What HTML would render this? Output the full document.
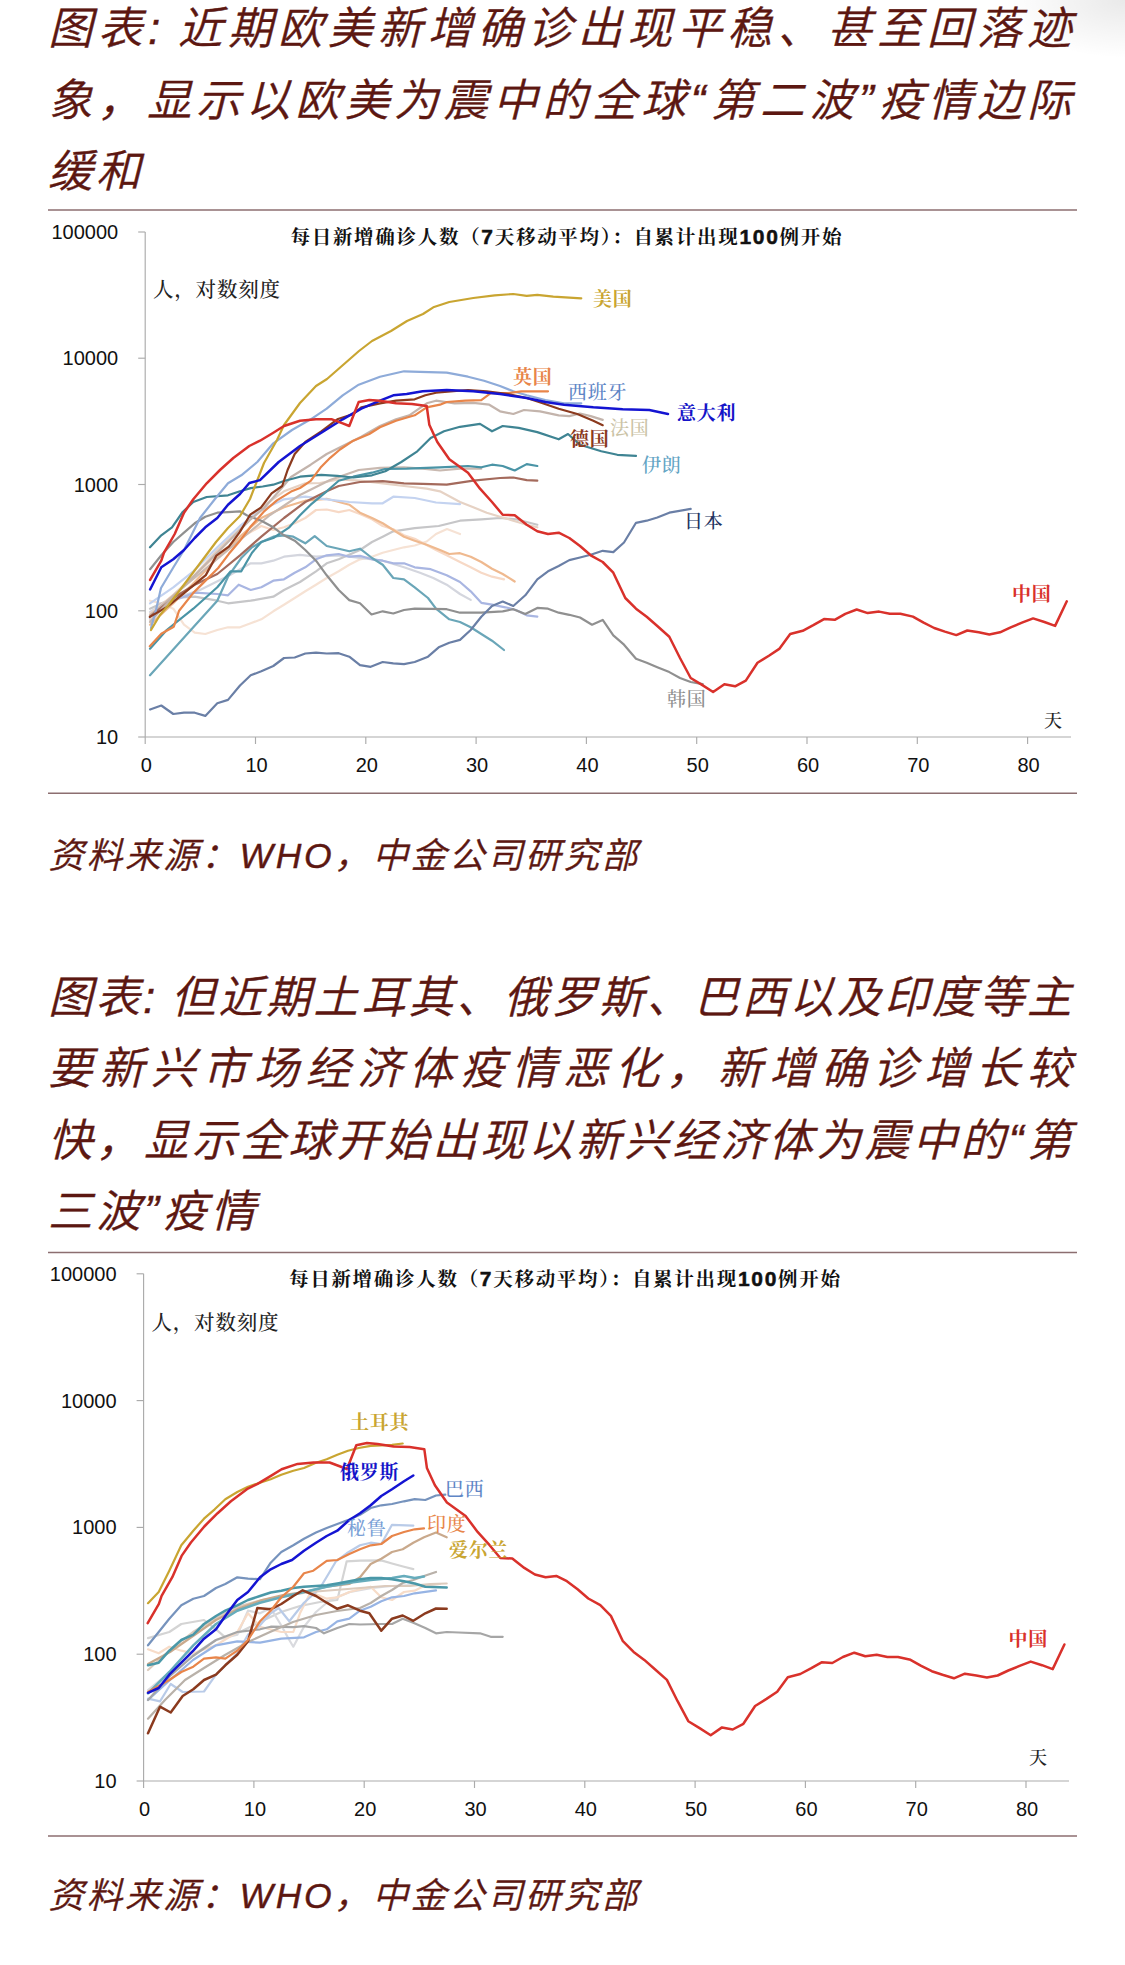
<!DOCTYPE html>
<html lang="zh-CN"><head><meta charset="utf-8"><title>图表</title>
<style>
html,body{margin:0;padding:0;background:#fff;}
body{width:1125px;height:1965px;position:relative;overflow:hidden;font-family:"Liberation Sans","Noto Sans CJK SC",sans-serif;}
.t{position:absolute;left:48px;width:1023.5px;color:#5c1711;font-style:italic;font-weight:350;font-size:44.5px;line-height:72px;height:72px;white-space:nowrap;text-align:justify;text-align-last:justify;letter-spacing:0;}
.t,.s{-webkit-text-stroke:0.4px #5c1711;}
.t.l{text-align:left;text-align-last:left;letter-spacing:3.6px;}
.s{position:absolute;left:48.5px;color:#5c1711;font-style:italic;font-weight:350;font-size:35.5px;line-height:50px;white-space:nowrap;letter-spacing:2.7px;}
svg.ch{position:absolute;left:0;top:0;}
.num text{font-family:"Liberation Sans",sans-serif;font-size:20px;fill:#111;}
.kai text{font-family:"Liberation Serif","Noto Serif CJK SC",serif;}
.kai .hd{font-family:"Liberation Sans",sans-serif;font-weight:700;font-size:21px;stroke:#111;stroke-width:0.5px;}
.corner{position:absolute;right:0;top:0;width:120px;height:58px;background:radial-gradient(ellipse 120px 58px at 100% 0,rgba(0,0,0,.085),rgba(0,0,0,0));}
</style></head><body>
<div class="corner"></div>
<div class="t" style="top:-7.0px">图表: 近期欧美新增确诊出现平稳、甚至回落迹</div>
<div class="t" style="top:64.5px">象，显示以欧美为震中的全球“第二波”疫情边际</div>
<div class="t l" style="top:136.0px">缓和</div>
<div class="t" style="top:961.7px">图表: 但近期土耳其、俄罗斯、巴西以及印度等主</div>
<div class="t" style="top:1033.2px">要新兴市场经济体疫情恶化，新增确诊增长较</div>
<div class="t" style="top:1104.7px">快，显示全球开始出现以新兴经济体为震中的“第</div>
<div class="t l" style="top:1176.2px">三波”疫情</div>
<div class="s" style="top:831px">资料来源：WHO，中金公司研究部</div>
<div class="s" style="top:1871px">资料来源：WHO，中金公司研究部</div>
<svg class="ch" width="1125" height="1965" viewBox="0 0 1125 1965">
<g stroke="#8c6e70" stroke-width="1.5"><line x1="48" y1="210" x2="1077" y2="210"/><line x1="48" y1="793.3" x2="1077" y2="793.3"/><line x1="48" y1="1252.4" x2="1077" y2="1252.4"/><line x1="48" y1="1836" x2="1077" y2="1836"/></g>
<g stroke="#ababab" stroke-width="1.15" fill="none">
<line x1="145.2" y1="232.0" x2="145.2" y2="737.0"/>
<line x1="145.2" y1="737.0" x2="1071.0" y2="737.0"/>
<line x1="138.2" y1="232.0" x2="145.2" y2="232.0"/>
<line x1="138.2" y1="358.2" x2="145.2" y2="358.2"/>
<line x1="138.2" y1="484.5" x2="145.2" y2="484.5"/>
<line x1="138.2" y1="610.8" x2="145.2" y2="610.8"/>
<line x1="138.2" y1="737.0" x2="145.2" y2="737.0"/>
<line x1="145.2" y1="737.0" x2="145.2" y2="744.0"/>
<line x1="255.5" y1="737.0" x2="255.5" y2="744.0"/>
<line x1="365.8" y1="737.0" x2="365.8" y2="744.0"/>
<line x1="476.1" y1="737.0" x2="476.1" y2="744.0"/>
<line x1="586.4" y1="737.0" x2="586.4" y2="744.0"/>
<line x1="696.7" y1="737.0" x2="696.7" y2="744.0"/>
<line x1="807.0" y1="737.0" x2="807.0" y2="744.0"/>
<line x1="917.3" y1="737.0" x2="917.3" y2="744.0"/>
<line x1="1027.6" y1="737.0" x2="1027.6" y2="744.0"/>
</g>
<g class="num">
<text x="118.2" y="239.0" text-anchor="end">100000</text>
<text x="118.2" y="365.2" text-anchor="end">10000</text>
<text x="118.2" y="491.5" text-anchor="end">1000</text>
<text x="118.2" y="617.8" text-anchor="end">100</text>
<text x="118.2" y="744.0" text-anchor="end">10</text>
<text x="146.2" y="772.0" text-anchor="middle">0</text>
<text x="256.5" y="772.0" text-anchor="middle">10</text>
<text x="366.8" y="772.0" text-anchor="middle">20</text>
<text x="477.1" y="772.0" text-anchor="middle">30</text>
<text x="587.4" y="772.0" text-anchor="middle">40</text>
<text x="697.7" y="772.0" text-anchor="middle">50</text>
<text x="808.0" y="772.0" text-anchor="middle">60</text>
<text x="918.3" y="772.0" text-anchor="middle">70</text>
<text x="1028.6" y="772.0" text-anchor="middle">80</text>
</g>
<g fill="none" stroke-linejoin="round" stroke-linecap="round"><polyline points="150.0,600.7 161.3,603.3 173.3,608.7 184.0,624.7 194.7,632.7 205.3,634.0 217.3,630.0 228.0,627.3 240.0,627.3 250.7,623.3 261.3,619.3 273.3,611.3 284.0,604.7 294.7,598.0 305.3,591.3 316.0,584.7 326.7,578.0 338.7,571.3 349.3,564.7 360.0,559.3 372.0,556.7 382.7,552.7 393.3,550.0 404.0,547.3 414.7,545.5 426.7,541.5 436.0,534.0 447.0,529.0 460.0,534.0" stroke="#f6e2d4" stroke-width="2.2"/>
<polyline points="150.0,612.0 170.0,600.0 200.0,590.0 230.0,575.0 250.7,563.3 261.3,563.3 273.3,560.7 284.0,556.7 300.0,554.8 316.0,556.7 338.7,555.3 360.0,558.0 382.7,560.7 404.0,567.3 420.0,572.7 433.3,578.0 446.7,584.7 460.0,594.0 470.7,599.9" stroke="#d4d6de" stroke-width="2.2"/>
<polyline points="150.0,608.7 173.0,598.0 194.7,596.7 217.3,600.7 228.0,603.3 250.7,600.7 273.3,596.7 284.0,590.0 300.0,582.0 316.0,571.3 326.7,563.3 338.7,559.3 360.0,550.0 372.0,542.0 382.7,536.7 393.3,531.3 414.7,528.1 438.7,526.0 460.0,520.7 481.3,519.3 500.0,518.0 516.0,519.3 537.3,524.7" stroke="#c6c6c8" stroke-width="2.2"/>
<polyline points="150.0,618.0 161.0,606.0 173.3,600.7 194.7,592.7 217.3,594.0 228.0,595.3 238.7,584.7 250.7,590.0 261.3,587.3 273.3,580.7 284.0,579.3 294.7,572.7 305.3,567.3 316.0,559.3 326.7,555.3 338.7,554.0 349.3,556.7 360.0,555.9 372.0,559.3 382.7,560.7 393.3,563.3 404.0,563.3 414.7,567.3 430.7,569.2 446.7,575.3 460.0,582.0 470.7,591.3 481.3,602.8 492.0,604.7 505.3,607.3 516.0,610.0 526.7,615.3 537.3,616.7" stroke="#a9b6e2" stroke-width="2.2"/>
<polyline points="150.0,614.0 173.0,595.0 195.0,575.0 217.0,555.0 240.0,538.0 261.3,526.0 273.3,530.0 284.0,527.3 294.7,523.3 305.3,518.0 316.0,510.0 326.7,509.5 338.7,512.1 349.3,510.0 360.0,514.0 372.0,519.3 382.7,526.0 393.3,529.2 404.0,535.3 414.7,538.8 436.0,550.0 446.7,555.3 460.0,562.0 470.7,567.3 481.3,572.7 492.0,576.7 504.0,579.3" stroke="#f7d9c6" stroke-width="2.2"/>
<polyline points="150.0,624.7 173.3,603.3 194.7,582.0 217.3,558.0 240.0,536.7 261.3,518.0 284.0,507.3 305.3,500.7 326.7,498.8 349.3,504.7 360.0,512.7 372.0,518.0 382.7,523.3 393.3,530.0 404.0,536.7 414.7,540.7 426.7,544.7 440.0,550.0 449.3,554.0 460.0,553.2 470.7,556.7 481.3,562.0 492.0,568.7 502.7,574.0 514.7,581.5" stroke="#efb98f" stroke-width="2.2"/>
<polyline points="150.0,620.0 170.0,598.0 193.3,576.7 217.3,550.0 240.0,528.7 261.3,507.3 284.0,491.3 305.3,483.3 320.0,483.0 338.7,479.3 360.0,480.7 382.7,483.3 404.0,486.0 426.7,488.7 440.0,491.3 460.0,502.0 473.3,507.3 486.7,512.7 500.0,516.7 513.3,520.7 526.7,524.7 537.3,527.3" stroke="#e6d2c4" stroke-width="2.2"/>
<polyline points="150.0,603.3 173.3,587.3 193.3,571.3 217.3,547.3 240.0,526.0 261.3,510.0 284.0,499.3 305.3,496.7 326.7,499.3 349.3,502.0 372.0,503.3 382.7,503.3 393.3,496.7 414.7,498.0 436.0,502.5 460.0,504.1" stroke="#c4d3f0" stroke-width="2.2"/>
<polyline points="150.0,615.0 180.0,590.0 210.0,565.0 240.0,540.0 270.0,515.0 300.0,495.0 330.0,480.0 358.7,470.0 380.0,467.9 404.0,467.3 422.7,468.7 440.0,470.5 460.0,468.7 481.3,468.7" stroke="#c9b9b0" stroke-width="2.2"/>
<polyline points="150.0,675.3 166.7,656.7 193.3,627.3 217.3,600.7 228.0,576.7 241.3,558.0 252.0,547.3 261.3,542.0 273.3,536.7 284.0,535.3 293.3,536.7 305.3,543.3 314.7,536.1 326.7,546.0 338.7,548.7 349.3,551.3 360.0,548.7 372.0,558.0 382.7,564.7 393.3,578.0 404.0,579.3 414.7,587.3 428.0,598.0 436.0,608.7 449.3,619.3 460.0,622.0 470.7,627.3 481.3,634.0 492.0,640.7 504.0,650.0" stroke="#6aa6b8" stroke-width="2.2"/>
<polyline points="150.0,616.7 173.3,598.0 194.7,584.7 217.3,574.0 240.0,555.3 261.3,536.7 284.0,518.0 305.3,502.0 326.7,491.3 338.7,486.0 360.0,482.0 382.7,481.2 404.0,483.3 422.7,483.9 446.7,484.7 473.3,480.7 500.0,478.0 513.3,477.5 526.7,480.1 537.3,480.7" stroke="#a46a5c" stroke-width="2.2"/>
<polyline points="150.0,648.7 166.7,630.0 193.3,608.7 217.3,587.3 230.7,571.3 241.3,571.3 252.0,552.7 261.3,542.0 273.3,538.0 289.3,527.3 300.0,515.3 310.7,504.7 326.7,491.3 338.7,480.7 353.3,476.7 372.0,472.7 385.0,469.0 406.7,468.7 440.0,467.3 468.0,466.0 481.3,467.3 492.0,464.7 502.7,466.0 514.7,470.5 526.7,464.1 537.3,466.0" stroke="#4a94a6" stroke-width="2.2"/>
<polyline points="150.1,569.2 161.3,555.3 173.3,542.0 184.0,532.7 194.7,523.3 205.3,516.7 217.3,512.7 228.0,512.1 240.0,511.3 246.7,515.3 261.3,520.7 273.3,527.3 284.0,535.3 294.7,540.7 305.3,550.0 316.0,560.7 326.7,575.3 338.7,590.0 349.3,600.1 360.0,603.3 371.5,614.5 382.7,611.3 393.3,613.5 404.0,610.0 414.7,608.7 446.7,609.2 460.0,612.7 481.3,612.7 502.7,611.3 513.3,609.2 525.3,614.0 537.3,607.9 548.0,608.7 558.7,612.7 569.3,614.8 580.0,617.5 592.0,624.7 602.7,619.9 613.3,635.3 624.0,644.7 636.0,658.8 646.7,662.8 657.3,667.3 669.3,672.1 680.0,678.0 690.7,682.0 702.7,684.1" stroke="#909090" stroke-width="2.2"/>
<polyline points="150.1,709.5 161.3,705.5 173.3,714.0 184.0,712.7 194.7,712.7 205.3,715.9 217.3,703.3 228.0,699.9 240.0,685.5 250.7,675.3 261.3,671.3 273.3,666.0 284.0,658.0 294.7,657.5 305.3,653.5 316.0,652.7 326.7,653.5 338.7,653.2 349.3,656.7 360.0,665.2 370.7,666.8 382.7,662.0 393.3,663.3 404.0,664.1 414.7,662.0 428.0,656.7 438.7,647.3 449.3,642.8 460.0,639.9 470.7,630.0 481.3,616.7 492.0,606.0 502.7,601.5 513.3,606.0 525.3,595.3 537.3,579.3 548.0,571.3 558.7,566.0 569.3,560.1 580.0,557.5 590.7,554.8 602.7,550.8 613.3,552.1 624.0,542.5 636.0,522.8 646.7,520.7 657.3,517.5 669.3,512.7 690.7,508.9" stroke="#6a7fa6" stroke-width="2.2"/>
<polyline points="150.0,622.0 170.0,600.0 190.0,580.0 210.0,560.0 230.0,540.0 250.0,520.0 264.0,508.0 280.0,490.0 291.0,477.0 310.7,464.7 326.7,454.0 342.7,446.0 361.3,436.7 380.0,426.0 396.0,419.3 409.3,415.3 426.7,403.3 436.0,400.7 454.7,403.3 473.3,402.8 489.3,404.7 500.0,411.3 513.3,414.0 524.0,410.0 540.0,411.3 558.7,415.3 569.3,416.1 580.0,413.5 590.7,416.1 602.7,419.9" stroke="#c3b4ac" stroke-width="2.2"/>
<polyline points="150.0,547.3 161.3,535.3 172.0,527.3 182.7,512.0 193.3,502.0 206.7,497.0 228.0,495.3 240.0,491.3 250.7,488.1 262.7,486.5 273.3,484.7 284.0,481.0 300.0,476.7 321.3,474.8 337.3,475.9 353.3,477.5 372.0,475.3 385.3,471.3 401.3,462.0 417.3,451.3 430.7,438.0 444.0,431.3 460.0,426.8 480.0,423.9 492.0,431.3 502.7,426.0 518.7,427.9 537.3,432.1 558.7,439.3 568.0,434.0 580.0,444.7 601.3,451.3 617.3,454.8 636.0,455.9" stroke="#3f8493" stroke-width="2.2"/>
<polyline points="151.0,628.0 156.0,610.0 161.0,588.0 173.0,568.0 184.0,550.0 200.0,518.0 215.0,499.0 228.0,483.3 241.3,475.3 257.3,462.0 273.3,443.3 292.0,430.0 310.7,419.3 326.7,408.7 342.7,395.3 358.7,384.7 380.0,376.7 404.0,371.3 420.0,371.9 446.7,372.7 468.0,376.7 484.0,380.7 500.0,386.0 513.3,391.3 526.7,395.3 545.3,400.1 564.0,403.3 581.3,403.3" stroke="#8eabd9" stroke-width="2.2"/>
<polyline points="149.8,646.2 161.3,633.8 173.8,626.7 179.1,610.7 193.3,592.9 205.8,580.4 218.2,568.0 228.9,553.8 239.6,541.3 250.2,527.1 264.4,511.1 276.9,500.4 291.1,491.6 300.0,488.0 310.7,480.9 321.3,466.7 330.2,457.8 340.0,449.5 353.3,440.7 369.3,434.0 380.0,427.3 396.0,420.7 414.7,415.3 426.7,407.3 440.0,404.7 446.7,402.0 465.3,400.7 481.3,400.1 490.7,393.2 508.0,393.2 521.3,391.3 548.0,391.3" stroke="#e8854a" stroke-width="2.2"/>
<polyline points="149.8,616.9 166.7,607.1 184.4,592.9 205.8,575.1 216.4,555.6 228.9,546.7 239.6,532.4 250.2,514.7 260.9,507.6 271.6,493.3 282.2,486.0 287.6,470.0 294.7,454.0 305.3,442.0 321.3,431.3 337.3,419.3 353.3,414.0 361.3,407.3 380.0,403.3 396.0,400.7 414.7,399.3 425.3,395.3 436.0,392.7 468.0,390.0 486.7,391.3 508.0,394.0 526.7,398.0 542.7,403.3 558.7,408.7 577.3,414.0 593.3,420.7 602.7,425.2" stroke="#8b3a1e" stroke-width="2.2"/>
<polyline points="151.0,630.0 160.0,615.0 167.0,607.0 180.0,590.0 195.0,570.0 216.0,542.0 228.0,528.0 240.0,516.0 250.0,499.0 257.0,481.0 264.0,463.0 277.0,440.0 284.0,425.0 300.0,403.0 316.0,386.0 327.0,379.0 343.0,365.0 359.0,351.0 372.0,341.0 391.0,331.0 407.0,321.0 423.0,314.0 433.3,307.3 449.3,302.0 473.3,298.0 494.7,295.3 513.3,294.0 526.7,295.9 537.3,294.8 553.3,296.7 581.3,298.3" stroke="#c9a531" stroke-width="2.2"/>
<polyline points="150.1,589.5 161.3,567.3 173.3,559.3 184.0,550.0 194.7,538.0 205.3,527.3 217.3,518.0 228.0,504.7 240.0,494.0 249.3,483.0 260.0,480.1 278.7,462.0 300.0,446.0 321.3,432.7 342.7,419.3 361.3,408.7 380.0,400.7 393.3,395.3 406.7,394.0 422.7,391.3 446.7,390.0 473.3,391.3 500.0,394.0 526.7,398.0 545.3,402.0 564.0,404.7 593.3,407.3 622.7,409.2 649.3,410.0 668.0,414.0" stroke="#1414d2" stroke-width="2.5"/>
<polyline points="150.1,579.9 161.3,560.7 164.0,552.7 174.7,534.0 184.0,512.7 193.3,499.3 206.7,483.3 220.0,470.0 233.3,458.0 249.3,446.0 260.0,440.7 273.3,432.7 284.0,426.0 300.0,420.7 316.0,419.3 332.0,419.3 342.7,423.3 349.3,426.0 358.7,402.0 369.3,399.9 380.0,400.7 396.0,403.3 412.0,403.9 426.7,406.0 429.3,424.7 437.3,442.0 449.3,459.3 468.0,472.7 480.0,488.7 492.0,502.0 502.7,514.8 514.7,515.3 526.7,524.7 537.3,531.3 548.0,534.0 558.7,532.7 569.3,538.0 580.0,546.0 590.7,555.3 602.7,562.0 613.3,572.7 625.3,598.0 636.0,608.7 646.7,616.7 657.3,626.0 669.3,636.7 680.0,658.0 690.7,678.0 702.0,684.9 713.1,692.0 724.4,684.2 735.1,686.3 745.8,680.6 757.5,662.8 768.9,655.7 779.6,648.6 790.2,634.0 802.7,630.8 813.3,625.2 824.0,619.1 834.7,619.8 845.3,613.8 856.7,609.5 867.7,613.1 879.1,611.6 889.8,613.8 900.4,613.8 912.9,616.6 923.6,622.7 934.2,628.0 944.9,631.6 956.3,635.1 967.3,630.5 978.7,632.3 989.3,634.4 1000.0,632.3 1010.7,627.3 1022.0,622.7 1033.1,618.4 1044.4,622.0 1055.1,625.9 1066.8,601.3" stroke="#d9312b" stroke-width="2.5"/></g>
<g class="kai">
<text x="290.5" y="243.5" font-weight="700" font-size="19.5" fill="#111" textLength="551" lengthAdjust="spacing">每日新增确诊人数（<tspan class="hd">7</tspan>天移动平均）：自累计出现<tspan class="hd">100</tspan>例开始</text>
<text x="153.0" y="296.5" fill="#222" font-size="20.5" letter-spacing="0.8" font-weight="500">人，对数刻度</text>
<text x="593.0" y="306.0" fill="#c9a531" font-size="19" letter-spacing="0.8" font-weight="700">美国</text>
<text x="513.0" y="384.0" fill="#e8854a" font-size="19" letter-spacing="0.8" font-weight="700">英国</text>
<text x="568.0" y="399.0" fill="#5f86c6" font-size="19" letter-spacing="0.8" font-weight="500">西班牙</text>
<text x="677.0" y="420.0" fill="#1414c8" font-size="19" letter-spacing="0.8" font-weight="700">意大利</text>
<text x="610.0" y="435.0" fill="#cbc3a6" font-size="19" letter-spacing="0.8" font-weight="500">法国</text>
<text x="570.0" y="446.0" fill="#8b3a1e" font-size="19" letter-spacing="0.8" font-weight="700">德国</text>
<text x="642.0" y="472.0" fill="#62a4c4" font-size="19" letter-spacing="0.8" font-weight="500">伊朗</text>
<text x="684.0" y="528.0" fill="#22335f" font-size="19" letter-spacing="0.8" font-weight="500">日本</text>
<text x="667.0" y="706.0" fill="#8e8e8e" font-size="19" letter-spacing="0.8" font-weight="500">韩国</text>
<text x="1012.0" y="601.0" fill="#d9312b" font-size="19" letter-spacing="0.8" font-weight="700">中国</text>
<text x="1044.0" y="727.0" fill="#222" font-size="18" letter-spacing="0.8" font-weight="500">天</text>
</g>
<g stroke="#ababab" stroke-width="1.15" fill="none">
<line x1="143.6" y1="1273.8" x2="143.6" y2="1781.0"/>
<line x1="143.6" y1="1781.0" x2="1069.0" y2="1781.0"/>
<line x1="136.6" y1="1273.8" x2="143.6" y2="1273.8"/>
<line x1="136.6" y1="1400.6" x2="143.6" y2="1400.6"/>
<line x1="136.6" y1="1527.4" x2="143.6" y2="1527.4"/>
<line x1="136.6" y1="1654.2" x2="143.6" y2="1654.2"/>
<line x1="136.6" y1="1781.0" x2="143.6" y2="1781.0"/>
<line x1="143.6" y1="1781.0" x2="143.6" y2="1788.0"/>
<line x1="253.9" y1="1781.0" x2="253.9" y2="1788.0"/>
<line x1="364.2" y1="1781.0" x2="364.2" y2="1788.0"/>
<line x1="474.5" y1="1781.0" x2="474.5" y2="1788.0"/>
<line x1="584.8" y1="1781.0" x2="584.8" y2="1788.0"/>
<line x1="695.1" y1="1781.0" x2="695.1" y2="1788.0"/>
<line x1="805.4" y1="1781.0" x2="805.4" y2="1788.0"/>
<line x1="915.7" y1="1781.0" x2="915.7" y2="1788.0"/>
<line x1="1026.0" y1="1781.0" x2="1026.0" y2="1788.0"/>
</g>
<g class="num">
<text x="116.6" y="1280.8" text-anchor="end">100000</text>
<text x="116.6" y="1407.6" text-anchor="end">10000</text>
<text x="116.6" y="1534.4" text-anchor="end">1000</text>
<text x="116.6" y="1661.2" text-anchor="end">100</text>
<text x="116.6" y="1788.0" text-anchor="end">10</text>
<text x="144.6" y="1816.0" text-anchor="middle">0</text>
<text x="254.9" y="1816.0" text-anchor="middle">10</text>
<text x="365.2" y="1816.0" text-anchor="middle">20</text>
<text x="475.5" y="1816.0" text-anchor="middle">30</text>
<text x="585.8" y="1816.0" text-anchor="middle">40</text>
<text x="696.1" y="1816.0" text-anchor="middle">50</text>
<text x="806.4" y="1816.0" text-anchor="middle">60</text>
<text x="916.7" y="1816.0" text-anchor="middle">70</text>
<text x="1027.0" y="1816.0" text-anchor="middle">80</text>
</g>
<g fill="none" stroke-linejoin="round" stroke-linecap="round"><polyline points="148.0,1638.1 169.3,1632.0 181.3,1624.0 204.0,1620.0 216.0,1629.3 225.3,1637.3 240.0,1632.0 260.0,1622.0 281.0,1612.0 300.0,1606.0 320.0,1602.0 337.3,1600.0 346.7,1561.3 360.0,1560.6 381.3,1560.4 392.0,1563.5 404.0,1566.7 413.3,1569.1" stroke="#d4d4d4" stroke-width="2.2"/>
<polyline points="148.0,1690.0 170.0,1672.0 193.0,1655.0 216.0,1640.0 237.3,1634.7 248.0,1610.7 260.0,1613.3 270.7,1608.0 281.0,1625.0 289.3,1640.0 293.3,1646.7 304.0,1626.7 316.0,1612.0 330.0,1600.0 350.0,1592.0 372.0,1588.0 392.0,1586.0 414.0,1585.0" stroke="#d9dade" stroke-width="2.2"/>
<polyline points="148.0,1649.3 158.7,1653.3 169.3,1646.7 181.3,1650.7 193.3,1653.3 216.0,1645.3 237.3,1632.0 248.0,1613.3 260.0,1626.7 281.3,1632.0 293.3,1632.0 300.0,1613.3 310.7,1592.0 326.7,1598.7 337.3,1597.3 349.3,1592.0 370.7,1586.7 381.3,1597.3 392.0,1600.0 404.0,1592.0 414.7,1590.7 425.3,1585.3 440.0,1584.0" stroke="#f7dcc8" stroke-width="2.2"/>
<polyline points="148.0,1698.7 160.0,1701.3 170.7,1684.0 182.7,1692.0 204.0,1691.5 216.0,1674.7 225.3,1665.3 237.3,1653.3 248.0,1634.7 260.0,1625.3 270.7,1613.3 278.7,1608.0 289.3,1621.3 304.0,1602.7 316.0,1592.0 320.0,1588.0 328.0,1574.7 336.0,1561.3 346.7,1553.3 360.0,1545.3 370.7,1542.7 381.3,1544.0 392.0,1524.8 413.3,1525.6" stroke="#b9cbe8" stroke-width="2.2"/>
<polyline points="148.0,1700.0 170.0,1680.0 193.0,1660.0 216.0,1645.3 237.3,1641.3 260.0,1642.7 281.3,1638.7 304.0,1637.3 316.0,1632.0 326.7,1629.3 337.3,1621.3 349.3,1618.7 360.0,1610.7 370.7,1606.7 381.3,1601.3 392.0,1597.3 404.0,1596.0 414.7,1593.3 436.0,1590.3" stroke="#97b4e4" stroke-width="2.2"/>
<polyline points="148.0,1700.0 170.0,1676.0 193.0,1656.0 216.0,1640.0 237.3,1632.0 260.0,1629.3 270.7,1626.7 293.3,1627.2 304.0,1626.1 316.0,1628.0 324.0,1633.3 337.3,1628.0 349.3,1624.0 360.0,1624.5 381.3,1624.0 392.0,1624.0 402.7,1618.7 413.3,1622.7 425.3,1628.0 436.0,1633.3 446.7,1632.0 458.7,1632.5 480.0,1633.3 490.7,1636.8 502.7,1636.8" stroke="#a6a6a6" stroke-width="2.2"/>
<polyline points="148.0,1670.0 170.0,1650.0 193.0,1632.0 216.0,1618.0 240.0,1606.0 262.0,1600.0 285.0,1596.0 310.0,1592.0 335.0,1590.0 360.0,1588.0 385.0,1586.0 410.0,1586.0 430.0,1584.0 446.7,1583.5" stroke="#dccbbd" stroke-width="2.2"/>
<polyline points="148.0,1718.7 165.0,1700.0 185.0,1680.0 204.0,1668.0 225.0,1655.0 248.0,1642.0 270.0,1632.0 293.0,1622.0 316.0,1615.0 337.0,1611.0 360.0,1608.0 370.7,1603.0 381.3,1596.0 392.0,1590.0 402.7,1583.0 413.3,1580.0 424.0,1576.0 436.0,1572.0" stroke="#b9b1a9" stroke-width="2.2"/>
<polyline points="148.0,1664.0 170.0,1652.0 193.0,1636.0 216.0,1620.0 240.0,1608.0 262.0,1600.0 283.0,1595.0 304.0,1592.0 326.7,1586.7 349.3,1584.0 360.0,1577.3 370.7,1564.0 381.3,1558.7 392.0,1552.0 402.7,1549.3 413.3,1542.7 424.0,1537.3 436.0,1532.5 446.7,1537.3" stroke="#c9a98c" stroke-width="2.2"/>
<polyline points="148.0,1693.3 169.3,1672.0 193.3,1645.3 216.0,1624.0 237.3,1610.7 260.0,1602.7 281.3,1597.3 304.0,1592.0 326.7,1586.7 349.3,1582.7 370.7,1580.0 392.0,1578.1 404.0,1576.0 414.7,1578.1 424.0,1576.5" stroke="#66acbc" stroke-width="2.5"/>
<polyline points="148.0,1665.3 158.7,1662.7 169.3,1650.7 181.3,1640.0 193.3,1634.7 204.0,1624.0 216.0,1616.0 225.3,1610.7 237.3,1605.3 248.0,1600.0 260.0,1596.0 270.7,1592.5 281.3,1590.7 293.3,1588.0 304.0,1586.7 316.0,1585.9 326.7,1585.3 337.3,1583.5 349.3,1581.3 360.0,1579.2 370.7,1578.1 381.3,1578.1 392.0,1579.2 404.0,1581.3 414.7,1583.5 425.3,1586.7 446.7,1587.5" stroke="#4a98a8" stroke-width="2.5"/>
<polyline points="148.0,1733.3 160.0,1706.7 170.7,1712.5 182.7,1696.0 193.3,1689.3 204.0,1680.0 216.0,1674.7 225.3,1665.3 237.3,1654.7 248.0,1641.3 257.3,1608.0 270.7,1609.3 281.3,1604.0 293.3,1596.0 302.7,1590.3 316.0,1596.0 326.7,1602.7 337.3,1608.8 348.0,1605.3 360.0,1610.7 369.3,1613.3 381.3,1630.7 392.0,1618.7 402.7,1615.5 413.3,1620.8 425.3,1613.3 436.0,1608.5 446.7,1608.8" stroke="#8b3a1e" stroke-width="2.5"/>
<polyline points="148.0,1692.0 169.3,1680.0 181.3,1672.0 193.3,1666.7 204.0,1658.7 216.0,1657.3 225.3,1658.7 237.3,1650.7 248.0,1640.0 260.0,1621.3 270.7,1610.7 281.3,1597.3 293.3,1586.7 304.0,1573.3 313.3,1570.7 326.7,1560.8 337.3,1560.0 349.3,1554.1 360.0,1549.3 370.7,1545.3 381.3,1544.0 392.0,1536.0 404.0,1532.0 414.7,1529.3 424.0,1528.3" stroke="#e8854a" stroke-width="2.2"/>
<polyline points="148.0,1645.3 158.7,1632.0 169.3,1618.7 181.3,1605.3 193.3,1598.7 204.0,1596.0 216.0,1588.0 225.3,1584.0 237.3,1577.3 248.0,1578.7 260.0,1579.2 270.7,1562.7 281.3,1552.0 293.3,1545.3 304.0,1538.7 316.0,1532.5 326.7,1528.0 337.3,1524.0 349.3,1519.5 360.0,1514.7 370.7,1508.0 381.3,1505.3 392.0,1504.0 404.0,1501.3 414.7,1499.2 425.3,1500.0 436.0,1495.5 445.3,1494.7" stroke="#7693bd" stroke-width="2.2"/>
<polyline points="148.0,1603.2 158.7,1592.0 169.3,1570.7 181.3,1545.3 193.3,1530.7 204.0,1518.7 214.7,1509.3 225.3,1499.2 237.3,1492.0 248.0,1486.7 260.0,1482.7 270.7,1479.2 281.3,1474.7 293.3,1470.7 304.0,1468.0 316.0,1462.7 326.7,1459.2 337.3,1454.7 348.0,1450.7 358.7,1448.0 370.7,1445.9 381.3,1445.3 392.0,1444.8 402.7,1443.5" stroke="#c9a531" stroke-width="2.2"/>
<polyline points="148.0,1692.8 158.7,1688.0 169.3,1674.7 181.3,1662.7 193.3,1650.7 204.0,1638.7 216.0,1629.3 225.3,1616.0 237.3,1600.0 248.0,1592.0 260.0,1577.3 270.7,1569.3 281.3,1564.0 292.0,1560.0 304.0,1550.7 316.0,1542.7 326.7,1536.0 337.3,1530.7 349.3,1520.0 360.0,1513.3 370.7,1505.3 381.3,1496.0 392.0,1489.3 404.0,1481.3 413.3,1475.5" stroke="#1414d2" stroke-width="2.5"/>
<polyline points="147.7,1623.1 158.9,1603.9 161.6,1595.9 172.3,1577.2 181.6,1555.9 190.9,1542.5 204.3,1526.5 217.6,1513.2 230.9,1501.2 246.9,1489.2 257.6,1483.9 270.9,1475.9 281.6,1469.2 297.6,1463.9 313.6,1462.5 329.6,1462.5 340.3,1466.5 346.9,1469.2 356.3,1445.2 366.9,1443.1 377.6,1443.9 393.6,1446.5 409.6,1447.1 424.3,1449.2 426.9,1467.9 434.9,1485.2 446.9,1502.5 465.6,1515.9 477.6,1531.9 489.6,1545.2 500.3,1558.0 512.3,1558.5 524.3,1567.9 534.9,1574.5 545.6,1577.2 556.3,1575.9 566.9,1581.2 577.6,1589.2 588.3,1598.5 600.3,1605.2 610.9,1615.9 622.9,1641.2 633.6,1651.9 644.3,1659.9 654.9,1669.2 666.9,1679.9 677.6,1701.2 688.3,1721.2 699.6,1728.1 710.7,1735.2 722.0,1727.4 732.7,1729.5 743.4,1723.8 755.1,1706.0 766.5,1698.9 777.2,1691.8 787.8,1677.2 800.3,1674.0 810.9,1668.4 821.6,1662.3 832.3,1663.0 842.9,1657.0 854.3,1652.7 865.3,1656.3 876.7,1654.8 887.4,1657.0 898.0,1657.0 910.5,1659.8 921.2,1665.9 931.8,1671.2 942.5,1674.8 953.9,1678.3 964.9,1673.7 976.3,1675.5 986.9,1677.6 997.6,1675.5 1008.3,1670.5 1019.6,1665.9 1030.7,1661.6 1042.0,1665.2 1052.7,1669.1 1064.4,1644.5" stroke="#d9312b" stroke-width="2.5"/></g>
<g class="kai">
<text x="289" y="1286" font-weight="700" font-size="19.5" fill="#111" textLength="551" lengthAdjust="spacing">每日新增确诊人数（<tspan class="hd">7</tspan>天移动平均）：自累计出现<tspan class="hd">100</tspan>例开始</text>
<text x="151.5" y="1329.5" fill="#222" font-size="20.5" letter-spacing="0.8" font-weight="500">人，对数刻度</text>
<text x="350.0" y="1429.0" fill="#c9a531" font-size="19" letter-spacing="0.8" font-weight="700">土耳其</text>
<text x="340.0" y="1479.0" fill="#1414c8" font-size="19" letter-spacing="0.8" font-weight="700">俄罗斯</text>
<text x="445.0" y="1496.0" fill="#5f86c6" font-size="19" letter-spacing="0.8" font-weight="500">巴西</text>
<text x="347.0" y="1535.0" fill="#7a9fd6" font-size="19" letter-spacing="0.8" font-weight="500">秘鲁</text>
<text x="427.0" y="1531.0" fill="#e8854a" font-size="19" letter-spacing="0.8" font-weight="500">印度</text>
<text x="449.0" y="1557.0" fill="#c9a531" font-size="19" letter-spacing="0.8" font-weight="700">爱尔兰</text>
<text x="1008.5" y="1646.0" fill="#d9312b" font-size="19" letter-spacing="0.8" font-weight="700">中国</text>
<text x="1029.0" y="1764.0" fill="#222" font-size="18" letter-spacing="0.8" font-weight="500">天</text>
</g>
</svg>
</body></html>
